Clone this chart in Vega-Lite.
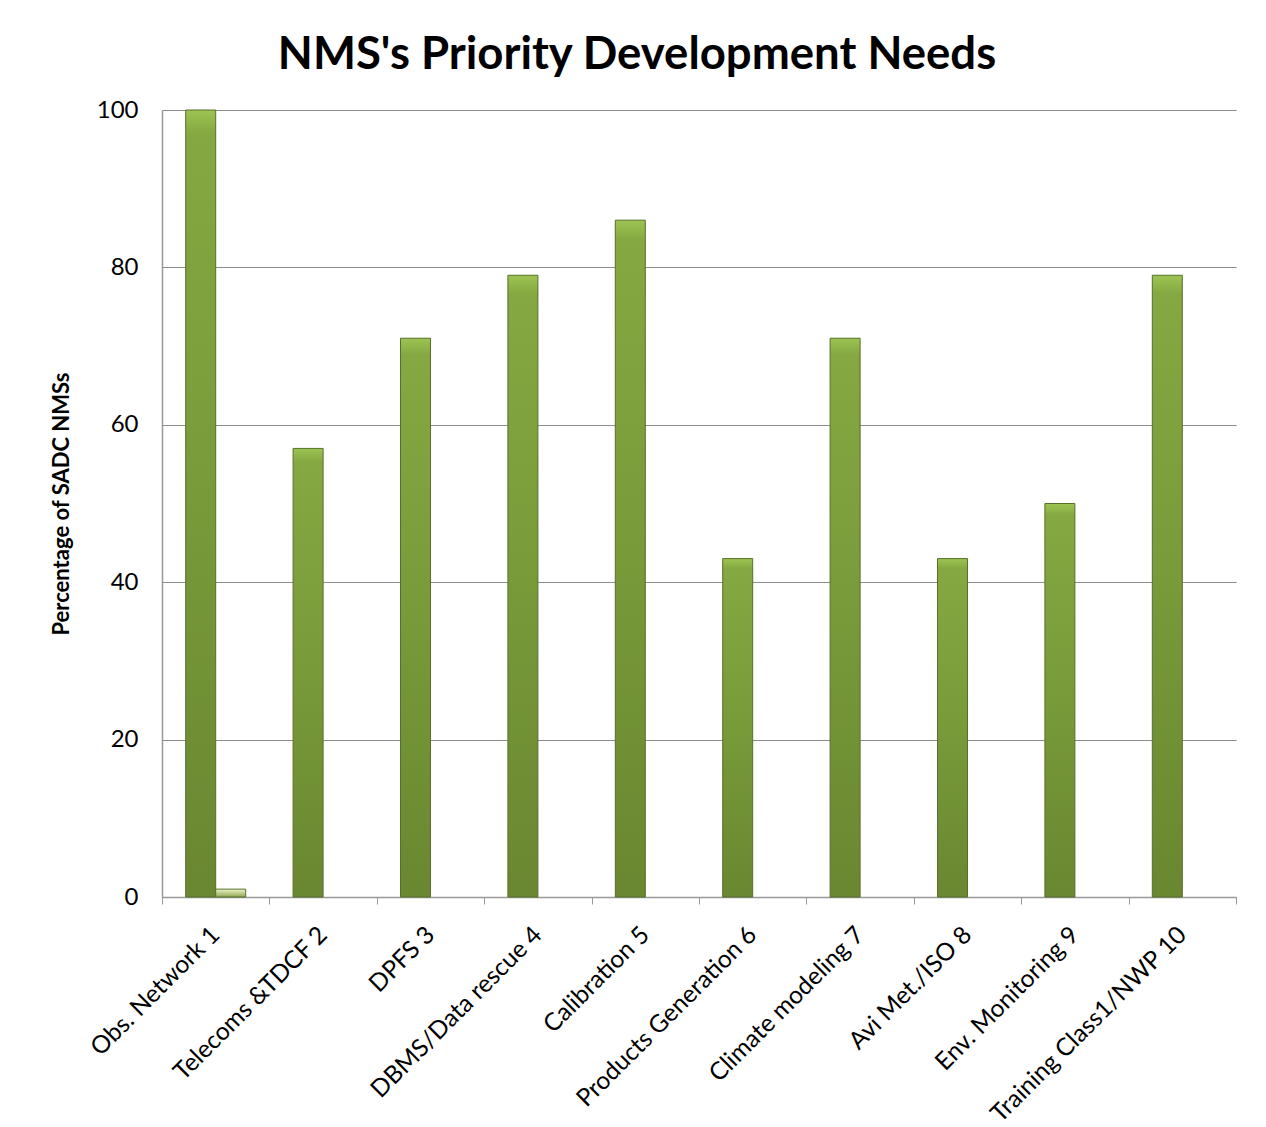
{
  "$schema": "https://vega.github.io/schema/vega-lite/v6.json",
  "autosize": {"type": "none"},
  "width": 1074,
  "height": 787,
  "padding": {"left": 162, "top": 110, "right": 30, "bottom": 230},
  "background": "white",
  "title": {
    "text": "NMS's Priority Development Needs",
    "font": "Lato",
    "fontSize": 45.5,
    "fontWeight": "bold",
    "color": "#000000",
    "anchor": "middle",
    "dx": -62,
    "offset": 20
  },
  "data": {
    "values": [
      {"need": "Obs. Network 1", "series": "a", "pct": 100},
      {"need": "Obs. Network 1", "series": "b", "pct": 1},
      {"need": "Telecoms &TDCF 2", "series": "a", "pct": 57},
      {"need": "DPFS 3", "series": "a", "pct": 71},
      {"need": "DBMS/Data rescue 4", "series": "a", "pct": 79},
      {"need": "Calibration 5", "series": "a", "pct": 86},
      {"need": "Products Generation 6", "series": "a", "pct": 43},
      {"need": "Climate modeling 7", "series": "a", "pct": 71},
      {"need": "Avi Met./ISO 8", "series": "a", "pct": 43},
      {"need": "Env. Monitoring 9", "series": "a", "pct": 50},
      {"need": "Training Class1/NWP 10", "series": "a", "pct": 79}
    ]
  },
  "mark": {"type": "bar", "strokeWidth": 1, "stroke": "#56702a"},
  "encoding": {
    "x": {
      "field": "need",
      "type": "nominal",
      "sort": null,
      "scale": {"paddingInner": 0, "paddingOuter": 0},
      "axis": {
        "title": null,
        "labelAngle": -45,
        "labelAlign": "right",
        "labelBaseline": "middle",
        "labelFont": "Lato",
        "labelFontSize": 24.5,
        "labelColor": "#000000",
        "labelPadding": 27,
        "labelLimit": 0,
        "tickBand": "extent",
        "tickSize": 7,
        "tickColor": "#999999",
        "domainColor": "#999999",
        "domainWidth": 1.5
      }
    },
    "xOffset": {
      "field": "series",
      "type": "nominal",
      "scale": {"domain": ["a", "b"], "paddingInner": 0, "paddingOuter": 0.79}
    },
    "y": {
      "field": "pct",
      "type": "quantitative",
      "scale": {"domain": [0, 100]},
      "axis": {
        "title": "Percentage of SADC NMSs",
        "titleFont": "Lato",
        "titleFontSize": 22,
        "titleFontWeight": "bold",
        "titleColor": "#000000",
        "titlePadding": 23,
        "values": [0, 20, 40, 60, 80, 100],
        "labelFont": "Lato",
        "labelFontSize": 24,
        "labelColor": "#000000",
        "labelPadding": 24,
        "ticks": false,
        "grid": true,
        "gridColor": "#8c8c8c",
        "gridWidth": 1.2,
        "domainColor": "#999999",
        "domainWidth": 1.5
      }
    },
    "fill": {
      "condition": {
        "test": "datum.series === 'b'",
        "value": {"gradient": "linear", "x1": 0, "y1": 0, "x2": 0, "y2": 1, "stops": [{"offset": 0, "color": "#eef5c8"}, {"offset": 1, "color": "#8da653"}]}
      },
      "value": {"gradient": "linear", "x1": 0, "y1": 0, "x2": 0, "y2": 1, "stops": [{"offset": 0, "color": "#9cc452"}, {"offset": 0.03, "color": "#85a842"}, {"offset": 0.5, "color": "#789a39"}, {"offset": 1, "color": "#6a8731"}]}
    }
  },
  "config": {"view": {"stroke": null}}
}
